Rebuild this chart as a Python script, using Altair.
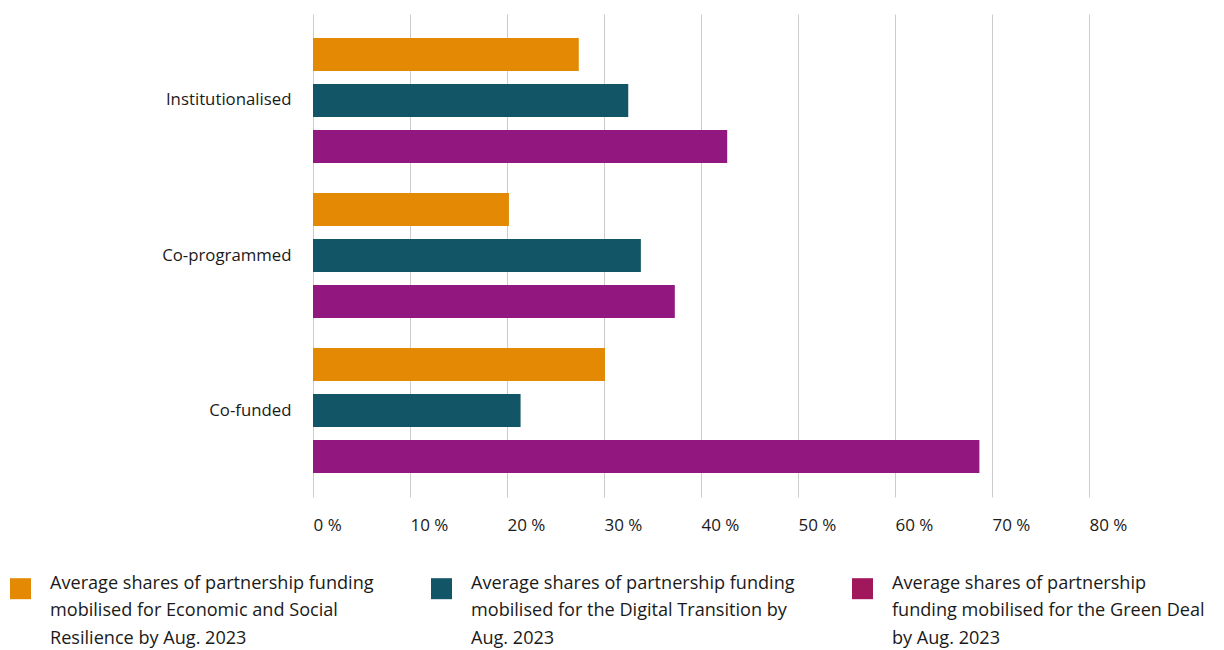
import altair as alt
import pandas as pd

categories = ["Institutionalised", "Co-programmed", "Co-funded"]
series = ["Economic and Social Resilience", "Digital Transition", "Green Deal"]
economic = [0.274, 0.202, 0.301]
digital = [0.325, 0.338, 0.214]
green = [0.427, 0.373, 0.687]

bar_colors = ["#E38903", "#125566", "#92177E"]
legend_colors = ["#E38903", "#125566", "#A0175C"]
legend_lines = [
    ["Average shares of partnership funding", "mobilised for Economic and Social", "Resilience by Aug. 2023"],
    ["Average shares of partnership funding", "mobilised for the Digital Transition by", "Aug. 2023"],
    ["Average shares of partnership", "funding mobilised for the Green Deal", "by Aug. 2023"],
]
x_ticks = [0, 0.1, 0.2, 0.3, 0.4, 0.5, 0.6, 0.7, 0.8]

rows = []
for i, c in enumerate(categories):
    for s, vals in zip(series, [economic, digital, green]):
        rows.append({"category": c, "series": s, "value": vals[i]})
df = pd.DataFrame(rows)

FONT = "Open Sans"

label_expr = " : ".join(
    f"datum.label == '{s}' ? {lines!r}" for s, lines in zip(series, legend_lines)
) + " : datum.label"

base = alt.Chart(df)

bars = base.mark_bar().encode(
    x=alt.X(
        "value:Q",
        scale=alt.Scale(domain=[0, 0.8], nice=False),
        axis=alt.Axis(
            values=x_ticks,
            labelExpr="format(datum.value*100, 'd') + ' %'",
            title=None,
            grid=True,
            gridColor="#cccccc",
            domain=False,
            ticks=False,
            labelAlign="left",
            labelPadding=20,
            labelFontSize=17,
            labelFont=FONT,
            labelColor="#1a1a1a",
        ),
    ),
    y=alt.Y(
        "category:N",
        sort=categories,
        scale=alt.Scale(paddingInner=0, paddingOuter=0.058),
        axis=alt.Axis(
            title=None,
            domain=False,
            ticks=False,
            labelPadding=22,
            labelFontSize=16.8,
            labelFont=FONT,
            labelColor="#1a1a1a",
        ),
    ),
    yOffset=alt.YOffset(
        "series:N",
        sort=series,
        scale=alt.Scale(paddingInner=0.283, paddingOuter=0.326),
    ),
    color=alt.Color(
        "series:N",
        sort=series,
        scale=alt.Scale(domain=series, range=bar_colors),
        legend=None,
    ),
)

legend_layer = base.mark_square(opacity=0).encode(
    x="value:Q",
    y=alt.Y("category:N", sort=categories),
    fill=alt.Fill(
        "series:N",
        sort=series,
        scale=alt.Scale(domain=series, range=legend_colors),
        legend=alt.Legend(
            title=None,
            orient="none",
            legendX=-303,
            legendY=564,
            direction="horizontal",
            columns=3,
            columnPadding=57,
            symbolType="square",
            symbolSize=441,
            symbolOpacity=1,
            symbolStrokeWidth=0,
            labelExpr=label_expr,
            labelFontSize=18.1,
            labelFont=FONT,
            labelColor="#1a1a1a",
            labelLimit=0,
            labelOffset=19,
            labelBaseline="alphabetic",
            padding=0,
        ),
    ),
)

chart = (
    alt.layer(bars, legend_layer)
    .resolve_scale(color="independent", fill="independent")
    .properties(width=776, height=483, padding={"left": 2, "top": 6, "right": 0, "bottom": 0})
    .configure(style={"guide-label": {"lineHeight": 27.5}})
    .configure_view(strokeWidth=0)
)

chart.save("out.html", embed_options={"renderer": "svg", "actions": False})
